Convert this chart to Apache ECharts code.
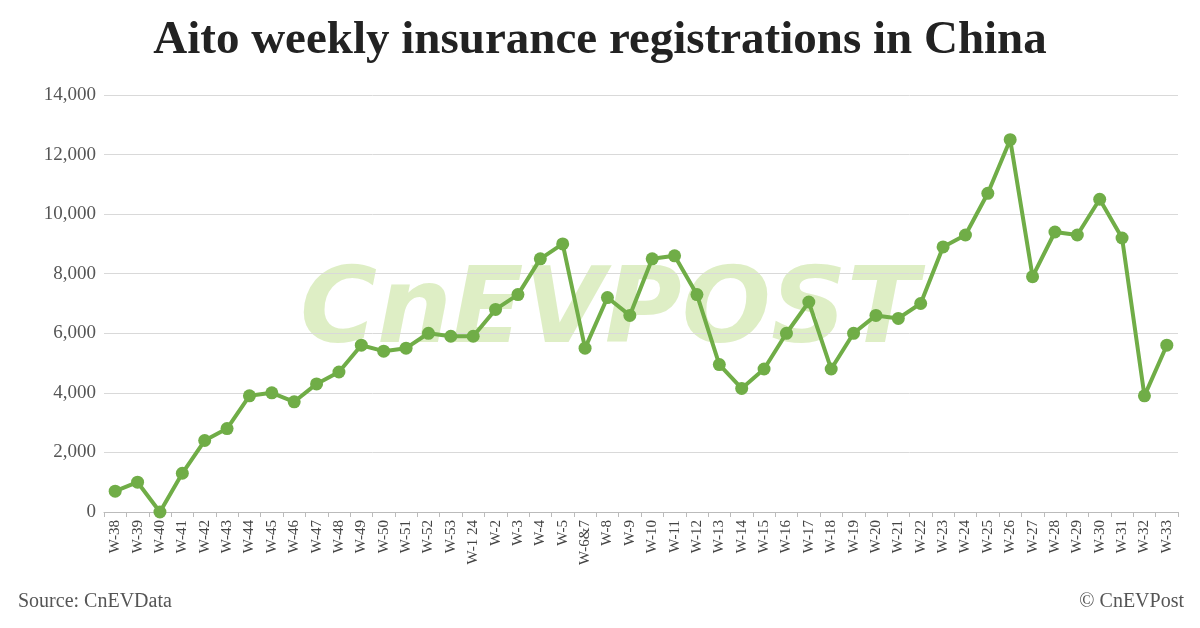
<!DOCTYPE html>
<html>
<head>
<meta charset="utf-8">
<script src="https://cdn.jsdelivr.net/npm/echarts@6/dist/echarts.min.js"></script>
<style>html,body{margin:0;padding:0;background:#fff}#chart{width:1200px;height:628px}</style>
</head>
<body>
<div id="chart"></div>
<script>
const weeks = ['W-38','W-39','W-40','W-41','W-42','W-43','W-44','W-45','W-46','W-47','W-48','W-49','W-50','W-51','W-52','W-53','W-1 24','W-2','W-3','W-4','W-5','W-6&7','W-8','W-9','W-10','W-11','W-12','W-13','W-14','W-15','W-16','W-17','W-18','W-19','W-20','W-21','W-22','W-23','W-24','W-25','W-26','W-27','W-28','W-29','W-30','W-31','W-32','W-33'];
const registrations = [700,1000,0,1300,2400,2800,3900,4000,3700,4300,4700,5600,5400,5500,6000,5900,5900,6800,7300,8500,9000,5500,7200,6600,8500,8600,7300,4950,4150,4800,6000,7050,4800,6000,6600,6500,7000,8900,9300,10700,12500,7900,9400,9300,10500,9200,3900,5600];

const font = 'Liberation Serif, Times New Roman, serif';
const chart = echarts.init(document.getElementById('chart'));
chart.setOption({
  animation: false,
  textStyle: { fontFamily: font },
  title: {
    text: 'Aito weekly insurance registrations in China',
    left: 'center', top: 12,
    textStyle: { fontFamily: font, fontSize: 47, fontWeight: 'bold', color: '#222' },
  },
  graphic: [
    { type: 'text', left: 300, top: 262, style: { text: 'CnEVPOST', fontSize: 105, fontWeight: 'bold', fontStyle: 'italic', fontFamily: 'DejaVu Sans', fill: 'rgba(160,205,90,0.35)' }, z: 0 },
    { type: 'text', left: 18, top: 592, style: { text: 'Source: CnEVData', fontSize: 20, fontFamily: font, fill: '#555' } },
    { type: 'text', right: 16, top: 592, style: { text: '© CnEVPost', fontSize: 20, fontFamily: font, fill: '#555' } },
  ],
  grid: { left: 104, right: 22, top: 95, bottom: 116 },
  xAxis: {
    type: 'category',
    data: weeks,
    boundaryGap: true,
    axisLine: { lineStyle: { color: '#bbb' } },
    axisTick: { show: true, lineStyle: { color: '#bbb' } },
    axisLabel: { rotate: 90, interval: 0, fontSize: 15, color: '#444', fontFamily: font },
  },
  yAxis: {
    type: 'value',
    min: 0, max: 14000, interval: 2000,
    axisLabel: { fontSize: 19, color: '#555', fontFamily: font, formatter: v => v.toLocaleString('en-US') },
    splitLine: { lineStyle: { color: '#d9d9d9' } },
    axisLine: { show: false },
    axisTick: { show: false },
  },
  series: [{
    type: 'line',
    data: registrations,
    symbol: 'circle',
    symbolSize: 13,
    lineStyle: { color: '#70ad47', width: 4 },
    itemStyle: { color: '#70ad47' },
    z: 5,
  }],
});
</script>
</body>
</html>
